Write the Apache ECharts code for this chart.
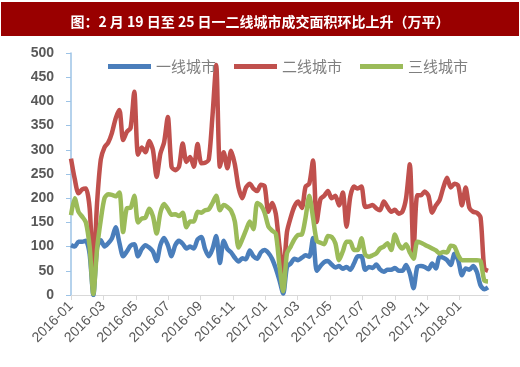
<!DOCTYPE html>
<html><head><meta charset="utf-8">
<script src="https://cdn.jsdelivr.net/npm/echarts@6/dist/echarts.min.js"></script>
<style>html,body{margin:0;padding:0;background:#fff}#c{width:520px;height:367px}</style>
</head><body><div id="c"></div>
<script>
const titleText = '图：2 月 19 日至 25 日一二线城市成交面积环比上升（万平）';
const seriesNames = ['一线城市', '二线城市', '三线城市'];
const startYear = 2016;
const weeksPerMonth = 30.44 / 7;
const tickMonths = [0, 2, 4, 6, 8, 10, 12, 14, 16, 18, 20, 22, 24];
const tier1 = [103,100,110,110,112,85,0,98,113,100,
  107,117,140,108,80,90,102,105,80,95,
  103,98,90,70,103,118,103,80,103,112,
  106,96,100,96,115,120,95,80,95,122,
  66,112,95,88,77,69,76,74,92,80,
  75,88,93,87,75,55,30,3,58,65,
  75,72,77,82,79,118,50,60,68,70,
  63,57,60,54,58,52,65,80,80,52,
  58,56,63,53,48,52,52,56,50,50,
  62,45,14,58,60,58,53,65,55,79,
  77,72,62,85,72,41,55,52,60,48,
  20,12,16];
const tier2 = [282,240,210,218,220,180,50,190,280,305,
  315,335,365,382,320,337,345,420,290,305,
  295,318,300,244,292,315,368,265,258,265,
  313,275,285,265,312,272,273,280,370,475,
  265,295,262,298,270,222,200,222,230,220,
  215,228,225,172,190,168,100,45,130,160,
  183,193,180,224,230,278,151,198,205,215,
  200,205,185,212,141,203,224,220,224,182,
  183,186,179,175,193,182,172,176,168,172,
  200,270,86,206,206,214,205,170,185,196,
  222,242,222,230,226,185,222,180,172,170,
  160,55,50];
const tier3 = [165,200,172,162,150,100,2,95,155,200,
  208,207,204,212,130,179,180,205,150,158,
  160,178,163,127,170,188,178,166,167,163,
  170,140,152,152,172,170,175,177,190,205,
  175,186,182,174,152,98,115,134,152,136,
  190,185,170,142,133,127,60,8,86,100,
  115,124,125,160,205,160,112,108,105,122,
  120,107,72,90,110,110,93,93,117,84,
  79,82,86,96,100,107,93,125,105,96,
  105,88,75,110,108,104,100,96,92,86,
  89,88,102,100,82,72,72,72,72,72,
  70,30,28];

const toPairs = arr => arr.map((v, i) => [i / weeksPerMonth, v]);
const lastX = (tier1.length - 1) / weeksPerMonth;
const fmt = v => {
  const m = Math.round(v);
  const y = startYear + Math.floor(m / 12);
  const mm = (m % 12) + 1;
  return y + '-' + (mm < 10 ? '0' + mm : mm);
};
const colors = ['#4a7ebb', '#c0504d', '#9bbb59'];
const chart = echarts.init(document.getElementById('c'), null, {renderer: 'canvas'});
const mk = (name, data, c) => ({
  name, type: 'line', data: toPairs(data), showSymbol: false, smooth: 0.25,
  lineStyle: {width: 4.5, color: c}, itemStyle: {color: c}
});
chart.setOption({
  animation: false,
  backgroundColor: '#fff',
  graphic: [{type: 'rect', shape: {x: 1, y: 2, width: 518, height: 34}, style: {fill: '#990000'}, z: 0}],
  title: {text: titleText, left: 'center', top: 10,
    textStyle: {color: '#fff', fontSize: 14, fontWeight: 'bold', fontFamily: 'Noto Sans CJK SC'}},
  legend: {left: 103, top: 54, itemWidth: 43, itemHeight: 5, itemGap: 18, icon: 'rect',
    data: seriesNames,
    textStyle: {color: '#7f7f7f', fontSize: 15, fontFamily: 'Noto Sans CJK SC'}},
  grid: {left: 71, right: 32, top: 53, bottom: 72, containLabel: false},
  xAxis: {type: 'value', min: 0, max: lastX,
    axisLine: {lineStyle: {color: '#d9d9d9', width: 1}},
    axisTick: {show: true, length: 5, lineStyle: {color: '#d9d9d9'}, customValues: tickMonths},
    splitLine: {show: false},
    axisLabel: {customValues: tickMonths, rotate: 45, margin: 9, formatter: fmt,
      color: '#595959', fontSize: 14, fontFamily: 'Liberation Sans'}},
  yAxis: {type: 'value', min: 0, max: 500, interval: 50,
    axisLine: {show: true, lineStyle: {color: '#9dc3e6', width: 1.5}},
    axisTick: {show: true, length: 5, lineStyle: {color: '#9dc3e6'}},
    splitLine: {show: false},
    axisLabel: {margin: 17, color: '#595959', fontSize: 14, fontWeight: 'bold', fontFamily: 'Liberation Sans'}},
  series: [mk(seriesNames[0], tier1, colors[0]), mk(seriesNames[1], tier2, colors[1]), mk(seriesNames[2], tier3, colors[2])]
});
</script></body></html>
